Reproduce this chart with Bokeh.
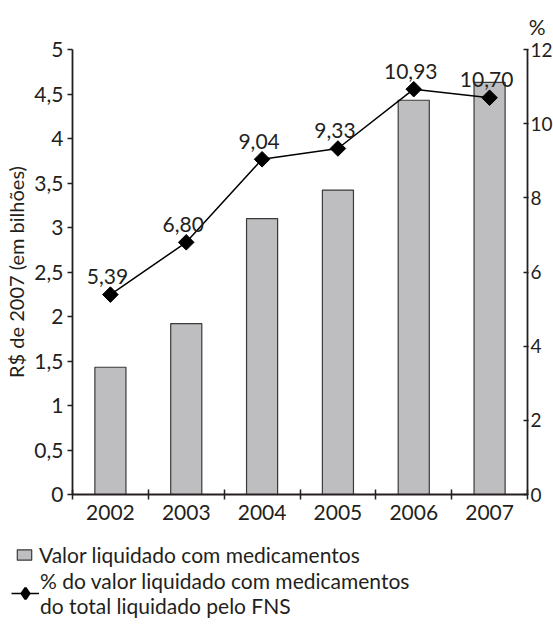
from bokeh.plotting import figure
from bokeh.models import Range1d, LinearAxis, FixedTicker, Legend, LegendItem, ColumnDataSource
from bokeh.embed import file_html
from bokeh.resources import INLINE
from bokeh.core.properties import value

years = ["2002", "2003", "2004", "2005", "2006", "2007"]
valor_bilhoes = [1.43, 1.92, 3.10, 3.42, 4.43, 4.63]
pct_fns = [5.39, 6.80, 9.04, 9.33, 10.93, 10.70]
pct_labels = ["5,39", "6,80", "9,04", "9,33", "10,93", "10,70"]
left_ticks = [0, 0.5, 1, 1.5, 2, 2.5, 3, 3.5, 4, 4.5, 5]
left_tick_labels = ["0", "0,5", "1", "1,5", "2", "2,5", "3", "3,5", "4", "4,5", "5"]
right_ticks = [0, 2, 4, 6, 8, 10, 12]
legend_bar = "Valor liquidado com medicamentos"
legend_line = "% do valor liquidado com medicamentos\ndo total liquidado pelo FNS"

FONT = "Lato"
TXT = "#231f20"
FS = "21px"
BAR_FILL = "#bebec1"
BAR_LINE = "#3a3a3a"

xc = [i + 0.5 for i in range(len(years))]
src = ColumnDataSource(dict(x=xc, valor=valor_bilhoes, pct=pct_fns, lab=pct_labels))

MAIN_H = 533
p = figure(frame_width=455, frame_height=445, x_range=Range1d(0, len(years)), y_range=Range1d(0, 5),
           output_backend="svg", toolbar_location=None,
           min_border_left=72, min_border_right=24, min_border_top=48, min_border_bottom=MAIN_H - 493)
p.extra_y_ranges = {"pct": Range1d(0, 12)}
p.grid.visible = False
p.outline_line_color = None
p.background_fill_color = "white"
p.border_fill_color = "white"

p.title.text = "%"
p.title.align = "right"
p.title.offset = -18
p.title.text_font = FONT
p.title.text_font_size = FS
p.title.text_font_style = "normal"
p.title.text_color = TXT
p.title.standoff = 22

# x axis: labels at centres, ticks at boundaries (minor ticks)
xa = p.xaxis[0]
xa.ticker = FixedTicker(ticks=xc, minor_ticks=list(range(len(years) + 1)))
xa.major_label_overrides = {x: y for x, y in zip(xc, years)}
xa.major_tick_in = 0
xa.major_tick_out = 0
xa.minor_tick_in = 5
xa.minor_tick_out = 5
xa.minor_tick_line_color = TXT
xa.minor_tick_line_width = 1.5
xa.axis_line_color = TXT
xa.axis_line_width = 1.8
xa.major_label_standoff = 5
xa.major_label_text_font = FONT
xa.major_label_text_font_size = FS
xa.major_label_text_color = TXT

ya = p.yaxis[0]
ya.ticker = FixedTicker(ticks=left_ticks, minor_ticks=[])
ya.major_label_overrides = {t: l for t, l in zip(left_ticks, left_tick_labels)}
ya.major_tick_in = 0
ya.major_tick_out = 5
ya.major_tick_line_width = 1.5
ya.major_tick_line_color = TXT
ya.axis_line_color = TXT
ya.axis_line_width = 1.8
ya.major_label_standoff = 4
ya.major_label_text_font = FONT
ya.major_label_text_font_size = FS
ya.major_label_text_color = TXT
ya.axis_label = "R$ de 2007 (em bilhões)"
ya.axis_label_text_font = FONT
ya.axis_label_text_font_size = "20px"
ya.axis_label_text_font_style = "normal"
ya.axis_label_text_color = TXT
ya.axis_label_standoff = 3

ra = LinearAxis(y_range_name="pct", ticker=FixedTicker(ticks=right_ticks, minor_ticks=[]))
ra.major_tick_in = 4
ra.major_tick_out = 1
ra.major_tick_line_width = 1.5
ra.major_tick_line_color = TXT
ra.axis_line_color = TXT
ra.axis_line_width = 1.8
ra.major_label_standoff = 2
ra.major_label_text_font = FONT
ra.major_label_text_font_size = "19px"
ra.major_label_text_color = TXT
p.add_layout(ra, "right")

p.vbar(x="x", top="valor", width=0.41, source=src, fill_color=BAR_FILL,
       line_color=BAR_LINE, line_width=1.2)
p.line(x="x", y="pct", source=src, y_range_name="pct", line_color="black", line_width=1.5)
p.scatter(x="x", y="pct", source=src, y_range_name="pct", marker="square",
          angle=0.7854, size=11, fill_color="black", line_color="black")
p.text(x="x", y="pct", text="lab", source=src, y_range_name="pct", text_align="center",
       text_baseline="alphabetic", y_offset=-18, x_offset=-3, text_font=value(FONT),
       text_font_size=FS, text_color=TXT)

# legend panel below the chart (separate root so its frame spans the full width)
LEG_H = 627 - MAIN_H
p2 = figure(width=553, height=LEG_H, x_range=Range1d(0, 553), y_range=Range1d(0, LEG_H),
            min_border=0, toolbar_location=None, output_backend="svg",
            x_axis_location=None, y_axis_location=None)
p2.grid.visible = False
p2.outline_line_color = None
p2.border_fill_color = "white"
p2.background_fill_color = "white"
offscreen = ColumnDataSource(dict(x=[-100], y=[-100]))  # legend swatches only
d_bar = p2.vbar(x="x", top="y", width=1, source=offscreen, fill_color=BAR_FILL,
                line_color=BAR_LINE, line_width=1.2)
d_line = p2.line(x="x", y="y", source=offscreen, line_color="black", line_width=1.5)
d_mark = p2.scatter(x="x", y="y", source=offscreen, marker="diamond",
                    fill_color="black", line_color="black", line_width=2.5)

leg1 = Legend(items=[LegendItem(label=legend_bar, renderers=[d_bar])],
              location=(15, 61), padding=0, margin=0, border_line_alpha=0,
              background_fill_alpha=0, glyph_width=18, glyph_height=13, label_standoff=6,
              label_text_font=FONT, label_text_font_size=FS, label_text_color=TXT)
leg2 = Legend(items=[LegendItem(label=legend_line, renderers=[d_line, d_mark])],
              location=(11, 10), padding=0, margin=0, border_line_alpha=0,
              background_fill_alpha=0, glyph_width=28, glyph_height=32, label_standoff=1,
              label_text_font=FONT, label_text_font_size=FS, label_text_color=TXT,
              label_text_line_height=1.1)
p2.add_layout(leg1, "center")
p2.add_layout(leg2, "center")

open("out.html", "w").write(file_html([p, p2], INLINE))
